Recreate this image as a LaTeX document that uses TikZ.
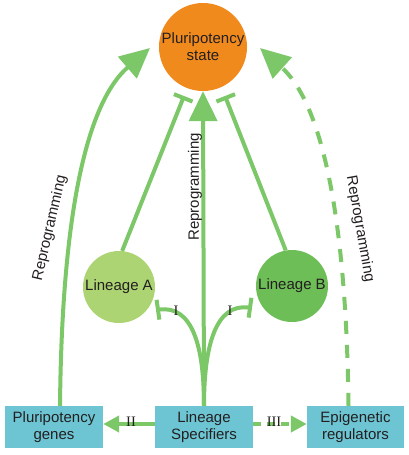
\documentclass[tikz,border=0pt]{standalone}
\usepackage{fontspec}
\setmainfont{Liberation Sans}
\newfontfamily\numfont{Liberation Serif}
\usetikzlibrary{arrows.meta}
\definecolor{lgreen}{HTML}{7CC767}
\definecolor{orangeA}{HTML}{F08A1D}
\definecolor{linA}{HTML}{ACD473}
\definecolor{linB}{HTML}{6EBE57}
\definecolor{boxc}{HTML}{6DC5D3}
\definecolor{txt}{HTML}{231F20}
\tikzset{
  lbl/.style={font=\fontsize{15}{17}\selectfont, text=txt, align=center},
  circ/.style={circle, lbl, inner sep=0pt},
  box/.style={rectangle, lbl, fill=boxc, minimum width=98pt, minimum height=42pt, inner sep=0pt},
  link/.style={draw=lgreen, line width=4pt},
  bigarr/.style={link, -{Triangle[length=30pt,width=28pt]}},
  smallarr/.style={link, -{Triangle[length=16pt,width=16pt]}},
  inhib/.style={link, -{Bar[width=20pt]}},
  roman/.style={font=\numfont\fontsize{14.5}{14.5}\selectfont, text=txt, inner sep=0pt},
  rep/.style={font=\fontsize{15}{17}\selectfont, text=txt, inner sep=0pt}
}
\begin{document}
\begin{tikzpicture}[x=1pt,y=-1pt]
\useasboundingbox (0,0) rectangle (408,455);
% nodes
\node[circ, fill=orangeA, minimum size=88pt] (PS) at (203,47) {Pluripotency\\state};
\node[circ, fill=linA, minimum size=72pt] (LA) at (119,287) {Lineage A};
\node[circ, fill=linB, minimum size=72pt] (LB) at (292,286) {Lineage B};
\node[box] (PG) at (54,427) {Pluripotency\\genes};
\node[box] (LS) at (204,427) {Lineage\\Specifiers};
\node[box, minimum width=97pt] (ER) at (355.5,427) {Epigenetic\\regulators};
% free ends
\coordinate (tipL) at (150,48);
\coordinate (tipR) at (260,48);
\coordinate (barA) at (184,96);
\coordinate (barB) at (225,96);
\coordinate (barLA) at (156,310);
\coordinate (barLB) at (252,308);
% reprogramming arrows
\draw[bigarr] ([xshift=6pt]PG.north) .. controls (62,200) and (90,100) .. (tipL);
\draw[bigarr, dash pattern=on 13pt off 11pt] ([xshift=-7pt]ER.north) .. controls (346,200) and (318,100) .. (tipR);
\draw[bigarr] (LS.north) -- (PS.south);
% inhibitions of pluripotency by lineages
\draw[inhib] (LA.85) -- (barA);
\draw[inhib] (LB.100) -- (barB);
% lineage specifiers to lineages
\draw[inhib] (LS.north) .. controls (204,345) and (192,305) .. (barLA);
\draw[inhib] (LS.north) .. controls (204,345) and (216,303) .. (barLB);
% horizontal arrows
\draw[smallarr] ([yshift=3pt]LS.west) -- ([yshift=3pt]PG.east);
\draw[smallarr, dash pattern=on 8pt off 6pt] ([yshift=3pt]LS.east) -- ([yshift=3pt]ER.west);
% labels
\node[roman] (I1) at (176,310.5) {I};
\node[roman] (I2) at (230,310.5) {I};
\node[roman] (II) at (131,422) {II};
\node[roman] (III) at (274,422) {III};
\node[rep, rotate=77] (R1) at (50,228) {Reprogramming};
\node[rep, rotate=90] (R2) at (195,187) {Reprogramming};
\node[rep, rotate=-80] (R3) at (360,229) {Reprogramming};
\end{tikzpicture}
\end{document}
